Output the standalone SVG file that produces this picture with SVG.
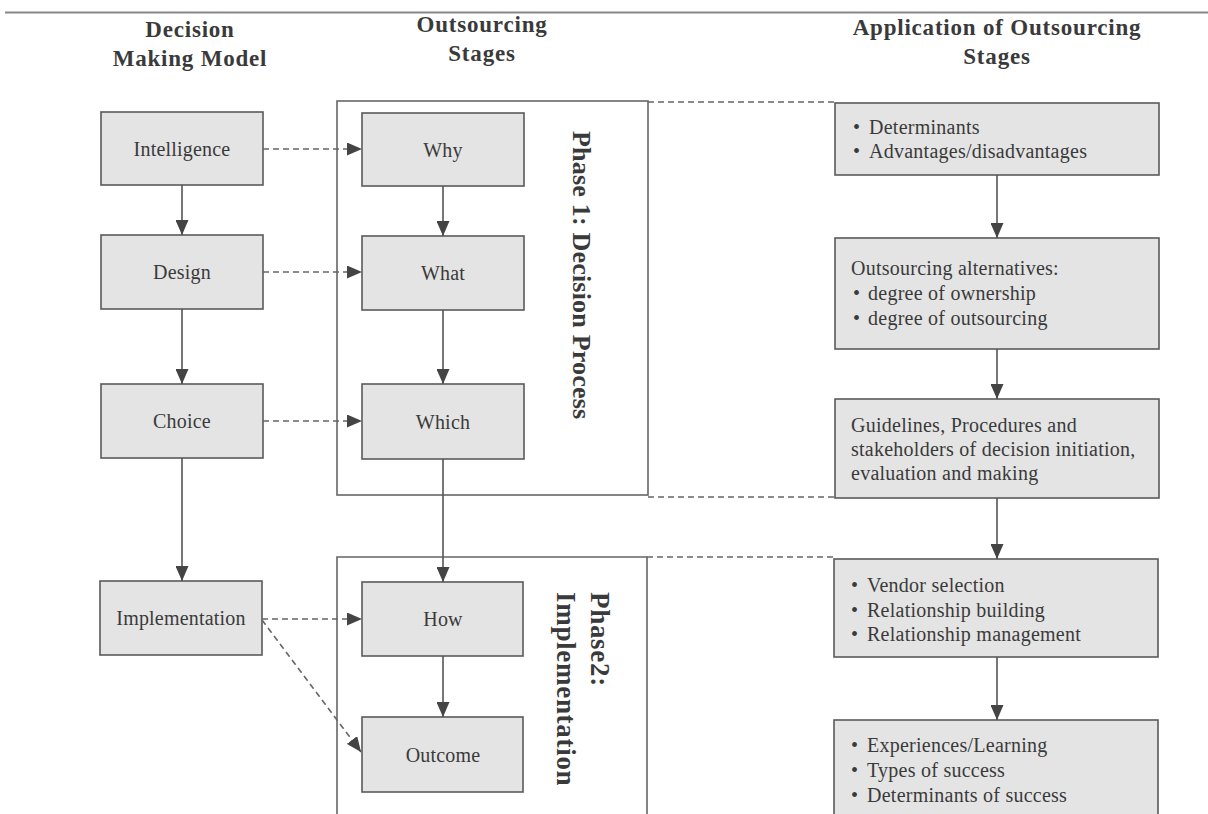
<svg xmlns="http://www.w3.org/2000/svg" width="1208" height="814" viewBox="0 0 1208 814">
  <style>
    .hdr { font-family: "Liberation Serif", "Times New Roman", serif; font-weight: bold; font-size: 23px; letter-spacing: 0.8px; fill: #3a3a3a; text-anchor: middle; }
    .box { fill: #e4e4e4; stroke: #5a5a5a; stroke-width: 1.6; }
    .frame { fill: none; stroke: #666; stroke-width: 1.6; }
    .lbl { font-family: "Liberation Serif", "Times New Roman", serif; font-size: 20px; letter-spacing: 0.2px; fill: #3a3a3a; text-anchor: middle; }
    .txt { font-family: "Liberation Serif", "Times New Roman", serif; font-size: 20px; letter-spacing: 0.25px; fill: #3a3a3a; }
    .phase { font-family: "Liberation Serif", "Times New Roman", serif; font-weight: bold; fill: #3a3a3a; }
    .solid { fill: none; stroke: #555; stroke-width: 1.6; }
    .dash { fill: none; stroke: #666; stroke-width: 1.6; stroke-dasharray: 6 4; }
  </style>
  <defs>
    <marker id="head" markerUnits="userSpaceOnUse" markerWidth="15" markerHeight="13" refX="15" refY="6.5" orient="auto">
      <path d="M0,0 L15,6.5 L0,13 z" fill="#444"/>
    </marker>
  </defs>

  <rect width="1208" height="814" fill="#fff"/>
  <!-- top rule -->
  <line x1="5" y1="12.5" x2="1208" y2="12.5" stroke="#888" stroke-width="2"/>

  <!-- column headings -->
  <g id="headings">
    <text class="hdr" x="190" y="37">Decision</text>
    <text class="hdr" x="190" y="66">Making Model</text>
    <text class="hdr" x="482" y="32">Outsourcing</text>
    <text class="hdr" x="482" y="61">Stages</text>
    <text class="hdr" x="997" y="35">Application of Outsourcing</text>
    <text class="hdr" x="997" y="64">Stages</text>
  </g>

  <!-- phase frames -->
  <g id="phase1">
    <rect class="frame" x="337" y="101" width="311" height="394"/>
    <text class="phase" font-size="26" letter-spacing="0.2" transform="translate(573,131) rotate(90)">Phase 1: Decision Process</text>
  </g>
  <g id="phase2">
    <path class="frame" d="M337,820 V557 H647 V820"/>
    <text class="phase" font-size="27" letter-spacing="0.7" transform="translate(591,592) rotate(90)">Phase2:</text>
    <text class="phase" font-size="27" letter-spacing="0.7" transform="translate(557,592) rotate(90)">Implementation</text>
  </g>

  <!-- decision making model -->
  <g id="intelligence"><rect class="box" x="101" y="112" width="162" height="73"/><text class="lbl" x="182" y="156">Intelligence</text></g>
  <g id="design"><rect class="box" x="101" y="235" width="162" height="74"/><text class="lbl" x="182" y="279">Design</text></g>
  <g id="choice"><rect class="box" x="101" y="384" width="162" height="74"/><text class="lbl" x="182" y="428">Choice</text></g>
  <g id="implementation"><rect class="box" x="100" y="581" width="162" height="74"/><text class="lbl" x="181" y="625">Implementation</text></g>

  <!-- outsourcing stages -->
  <g id="why"><rect class="box" x="362" y="113" width="162" height="73"/><text class="lbl" x="443" y="157">Why</text></g>
  <g id="what"><rect class="box" x="362" y="236" width="162" height="74"/><text class="lbl" x="443" y="280">What</text></g>
  <g id="which"><rect class="box" x="362" y="384" width="162" height="75"/><text class="lbl" x="443" y="429">Which</text></g>
  <g id="how"><rect class="box" x="362" y="582" width="161" height="74"/><text class="lbl" x="443" y="626">How</text></g>
  <g id="outcome"><rect class="box" x="362" y="717" width="161" height="75"/><text class="lbl" x="443" y="762">Outcome</text></g>

  <!-- application of outsourcing stages -->
  <g id="determinants">
    <rect class="box" x="835" y="103" width="324" height="72"/>
    <text class="txt" y="134"><tspan x="853">•</tspan><tspan x="869">Determinants</tspan></text>
    <text class="txt" y="158"><tspan x="853">•</tspan><tspan x="869">Advantages/disadvantages</tspan></text>
  </g>
  <g id="alternatives">
    <rect class="box" x="835" y="238" width="324" height="111"/>
    <text class="txt" x="851" y="275">Outsourcing alternatives:</text>
    <text class="txt" y="300"><tspan x="853">•</tspan><tspan x="868">degree of ownership</tspan></text>
    <text class="txt" y="325"><tspan x="853">•</tspan><tspan x="868">degree of outsourcing</tspan></text>
  </g>
  <g id="guidelines">
    <rect class="box" x="835" y="399" width="324" height="99"/>
    <text class="txt" x="851" y="432">Guidelines, Procedures and</text>
    <text class="txt" x="851" y="456">stakeholders of decision initiation,</text>
    <text class="txt" x="851" y="480">evaluation and making</text>
  </g>
  <g id="vendor">
    <rect class="box" x="834" y="559" width="324" height="98"/>
    <text class="txt" y="592"><tspan x="851">•</tspan><tspan x="867">Vendor selection</tspan></text>
    <text class="txt" y="617"><tspan x="851">•</tspan><tspan x="867">Relationship building</tspan></text>
    <text class="txt" y="641"><tspan x="851">•</tspan><tspan x="867">Relationship management</tspan></text>
  </g>
  <g id="success">
    <rect class="box" x="834" y="720" width="324" height="110"/>
    <text class="txt" y="752"><tspan x="851">•</tspan><tspan x="867">Experiences/Learning</tspan></text>
    <text class="txt" y="777"><tspan x="851">•</tspan><tspan x="867">Types of success</tspan></text>
    <text class="txt" y="802"><tspan x="851">•</tspan><tspan x="867">Determinants of success</tspan></text>
  </g>

  <!-- connectors -->
  <g id="connectors">
    <line class="solid" x1="182" y1="185" x2="182" y2="235" marker-end="url(#head)"/>
    <line class="solid" x1="182" y1="309" x2="182" y2="384" marker-end="url(#head)"/>
    <line class="solid" x1="182" y1="458" x2="182" y2="581" marker-end="url(#head)"/>

    <line class="solid" x1="443" y1="186" x2="443" y2="236" marker-end="url(#head)"/>
    <line class="solid" x1="443" y1="310" x2="443" y2="384" marker-end="url(#head)"/>
    <line class="solid" x1="443" y1="459" x2="443" y2="582" marker-end="url(#head)"/>
    <line class="solid" x1="443" y1="656" x2="443" y2="717" marker-end="url(#head)"/>

    <line class="solid" x1="997" y1="175" x2="997" y2="238" marker-end="url(#head)"/>
    <line class="solid" x1="997" y1="349" x2="997" y2="399" marker-end="url(#head)"/>
    <line class="solid" x1="997" y1="498" x2="997" y2="559" marker-end="url(#head)"/>
    <line class="solid" x1="997" y1="657" x2="997" y2="720" marker-end="url(#head)"/>

    <line class="dash" x1="263" y1="149" x2="362" y2="149" marker-end="url(#head)"/>
    <line class="dash" x1="263" y1="272" x2="362" y2="272" marker-end="url(#head)"/>
    <line class="dash" x1="263" y1="421" x2="362" y2="421" marker-end="url(#head)"/>
    <line class="dash" x1="262" y1="619" x2="362" y2="619" marker-end="url(#head)"/>
    <line class="dash" x1="262" y1="620" x2="361" y2="752" marker-end="url(#head)"/>

    <line class="dash" x1="648" y1="102" x2="835" y2="102"/>
    <line class="dash" x1="648" y1="497" x2="835" y2="497"/>
    <line class="dash" x1="647" y1="557" x2="834" y2="557"/>
  </g>
</svg>
